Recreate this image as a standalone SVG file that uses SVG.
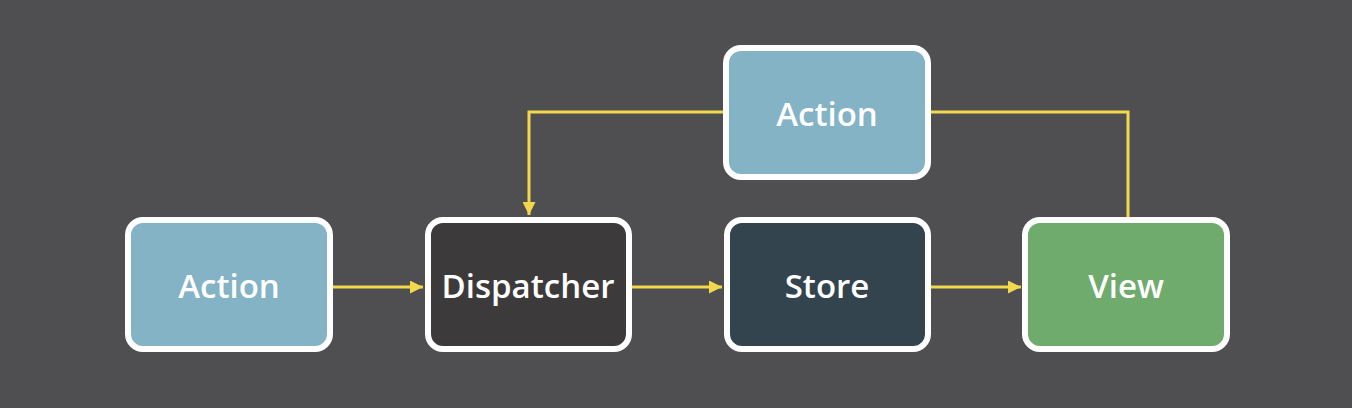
<svg xmlns="http://www.w3.org/2000/svg" width="1352" height="408" viewBox="0 0 1352 408">
<style>
.box{stroke:#ffffff;stroke-width:6}
.lbl{font-family:"Open Sans","DejaVu Sans",sans-serif;font-weight:600;font-size:33px;fill:#ffffff;text-anchor:middle;dominant-baseline:central}
.wire{fill:none;stroke:#f2d84a;stroke-width:3}
</style>
<defs>
<marker id="arr" markerWidth="13" markerHeight="13" refX="13" refY="6.5" orient="auto" markerUnits="userSpaceOnUse">
<path d="M0,0 L13,6.5 L0,13 z" fill="#f2d84a"/>
</marker>
</defs>
<rect width="1352" height="408" fill="#4f4f51"/>
<g id="connectors">
<line class="wire" x1="333" y1="287" x2="423" y2="287" marker-end="url(#arr)"/>
<line class="wire" x1="632" y1="287" x2="722" y2="287" marker-end="url(#arr)"/>
<line class="wire" x1="931" y1="287" x2="1021" y2="287" marker-end="url(#arr)"/>
<polyline class="wire" points="723,112 529,112 529,215" marker-end="url(#arr)"/>
<polyline class="wire" points="931,112 1128,112 1128,217"/>
</g>
<g id="action-left">
<rect class="box" x="128" y="220" width="202" height="129" rx="15" fill="#84b3c6"/>
<text class="lbl" x="229" y="285">Action</text>
</g>
<g id="dispatcher">
<rect class="box" x="428" y="220" width="201" height="129" rx="15" fill="#3d3a3b"/>
<text class="lbl" x="528" y="285">Dispatcher</text>
</g>
<g id="store">
<rect class="box" x="727" y="220" width="201" height="129" rx="15" fill="#33444f"/>
<text class="lbl" x="827" y="285">Store</text>
</g>
<g id="view">
<rect class="box" x="1025" y="220" width="202" height="129" rx="15" fill="#6fab6c"/>
<text class="lbl" x="1126" y="285">View</text>
</g>
<g id="action-top">
<rect class="box" x="726" y="48" width="202" height="129" rx="15" fill="#84b3c6"/>
<text class="lbl" x="827" y="113">Action</text>
</g>
</svg>
